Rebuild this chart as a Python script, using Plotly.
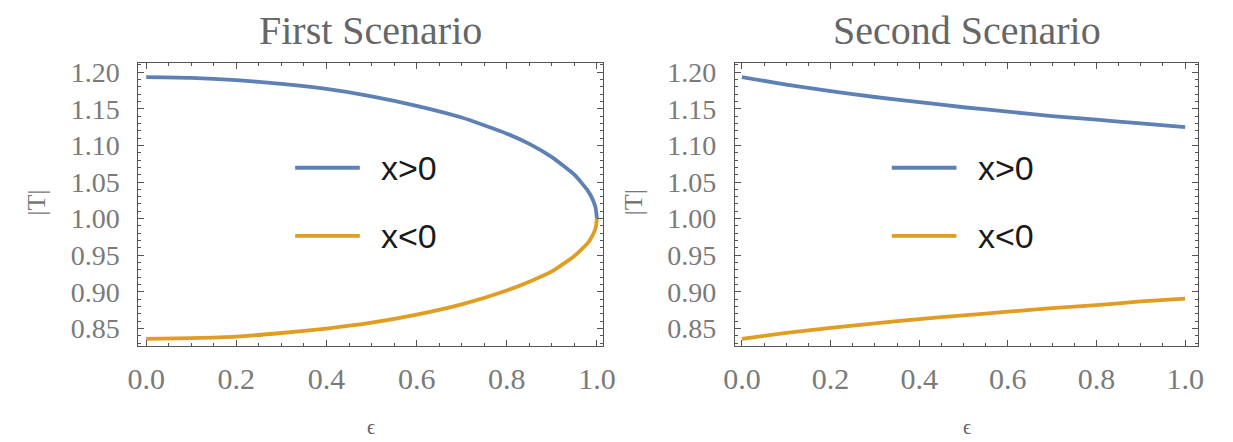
import plotly.graph_objects as go

W, H = 1233, 442

# ---- data ----
eps1 = [0.0, 0.1, 0.2, 0.3, 0.4, 0.5, 0.6, 0.7, 0.8, 0.85, 0.9, 0.95, 0.98, 0.99, 0.997, 1.0]
up1 = [1.193, 1.192, 1.189, 1.184, 1.177, 1.167, 1.154, 1.138, 1.116, 1.102, 1.084, 1.060, 1.038, 1.027, 1.015, 1.000]
lo1 = [0.836, 0.837, 0.839, 0.844, 0.850, 0.858, 0.869, 0.883, 0.902, 0.914, 0.928, 0.949, 0.967, 0.977, 0.987, 1.000]

eps2 = [0.0, 0.1, 0.2, 0.3, 0.4, 0.5, 0.6, 0.7, 0.8, 0.9, 1.0]
up2 = [1.193, 1.183, 1.174, 1.166, 1.159, 1.152, 1.146, 1.140, 1.135, 1.130, 1.125]
lo2 = [0.836, 0.844, 0.851, 0.857, 0.863, 0.868, 0.873, 0.878, 0.882, 0.887, 0.891]

titles = ["First Scenario", "Second Scenario"]
series_names = ["x>0", "x<0"]
x_ticks = [0.0, 0.2, 0.4, 0.6, 0.8, 1.0]
y_ticks = [0.85, 0.90, 0.95, 1.00, 1.05, 1.10, 1.15, 1.20]

BLUE = "#5E81B5"
ORANGE = "#E19C24"
colors = [BLUE, ORANGE]

def px(x):
    return x / W

def py(y):
    return 1 - y / H

panels = [
    dict(x0=129, x1=603, xr=[-0.0174, 1.013]),
    dict(x0=738, x1=1211, xr=[-0.0155, 1.030]),
]
ytop, ybot = 58, 345
yr = [0.8258, 1.2121]

fig = go.Figure()
data = [(eps1, up1, lo1), (eps2, up2, lo2)]
for i, (e, u, l) in enumerate(data):
    xa = "x" if i == 0 else "x2"
    ya = "y" if i == 0 else "y2"
    for j, vals in enumerate([u, l]):
        fig.add_trace(go.Scatter(x=e, y=vals, mode="lines", xaxis=xa, yaxis=ya,
                                 line=dict(color=colors[j], width=3.8, shape="spline", smoothing=0.5),
                                 showlegend=False, name=series_names[j], hoverinfo="skip"))

axis_common = dict(showgrid=False, zeroline=False, showline=True, linecolor="#555555", linewidth=1.2,
                   mirror="allticks", ticks="inside", tickcolor="#555555", ticklen=6, tickwidth=1)

for i, p in enumerate(panels):
    sfx = "" if i == 0 else "2"
    fig.layout["xaxis" + sfx] = dict(axis_common, domain=[px(p["x0"]), px(p["x1"])], range=p["xr"],
                                     tickvals=x_ticks, ticktext=[f"{v:.1f}" for v in x_ticks],
                                     tickfont=dict(family="Liberation Serif", color="#7a7a7a", size=30),
                                     minor=dict(dtick=0.05, tick0=0, ticks="inside", ticklen=3, tickcolor="#555555"),
                                     anchor="y" + sfx, ticklabelstandoff=6)
    fig.layout["yaxis" + sfx] = dict(axis_common, domain=[py(ybot), py(ytop)], range=yr,
                                     tickvals=y_ticks, ticktext=[f"{v:.2f}" for v in y_ticks],
                                     tickfont=dict(family="Liberation Serif", color="#7a7a7a", size=28),
                                     minor=dict(dtick=0.01, tick0=0, ticks="inside", ticklen=3, tickcolor="#555555"),
                                     anchor="x" + sfx, ticklabelstandoff=12)
    cx = (p["x0"] + p["x1"]) / 2
    # title
    fig.add_annotation(text=titles[i], x=px(cx), y=py(25), xref="paper", yref="paper", showarrow=False,
                       font=dict(family="Liberation Serif", size=40, color="#666666"), xanchor="center", yanchor="middle")
    # x axis title
    fig.add_annotation(text="ϵ", x=px(cx), y=py(427), xref="paper", yref="paper", showarrow=False,
                       font=dict(family="Liberation Serif", size=20, color="#666666"), xanchor="center", yanchor="middle")
    # y axis title
    fig.add_annotation(text="|T|", x=px(p["x0"] - 104), y=py(199), xref="paper", yref="paper", showarrow=False,
                       textangle=-90, font=dict(family="Liberation Serif", size=26, color="#777777"),
                       xanchor="center", yanchor="middle")
    # legend
    lx0 = p["x0"] + 160
    for j in range(2):
        yy = 164 + 69 * j
        fig.add_shape(type="line", xref="paper", yref="paper", x0=px(lx0), x1=px(lx0 + 66), y0=py(yy), y1=py(yy),
                      line=dict(color=colors[j], width=3.8))
        fig.add_annotation(text=series_names[j], x=px(lx0 + 86), y=py(yy), xref="paper", yref="paper",
                           showarrow=False, xanchor="left", yanchor="middle",
                           font=dict(family="Liberation Sans", size=34, color="#1a1a1a"))

fig.update_layout(width=W, height=H, margin=dict(l=0, r=0, t=0, b=0),
                  paper_bgcolor="white", plot_bgcolor="white", showlegend=False)

fig.write_html("out.html", config={"displayModeBar": False},
               post_script="document.body.style.margin='0';document.body.style.padding='0';document.body.style.overflow='hidden';")
